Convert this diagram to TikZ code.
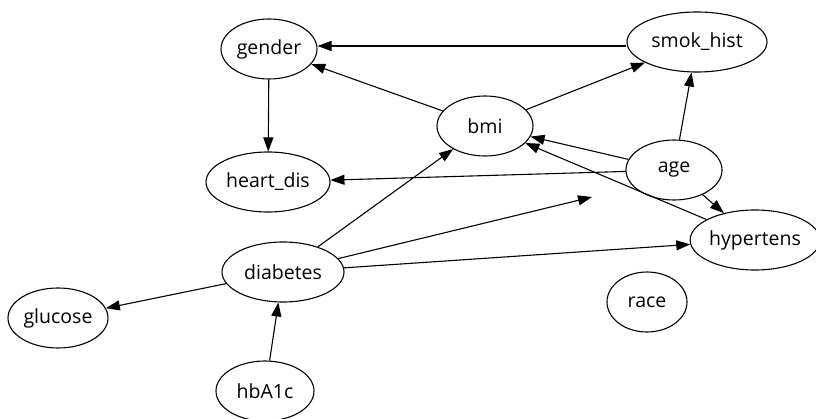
\documentclass[tikz,border=0pt]{standalone}
\usepackage{fontspec}
\setmainfont{Open Sans}
\usetikzlibrary{shapes.geometric,arrows.meta}
\begin{document}
\begin{tikzpicture}[x=1pt,y=-1pt,
  var/.style={ellipse,draw,line width=1.1pt,inner sep=0pt,minimum height=60pt,
    font=\fontsize{19.5}{21}\selectfont},
  edge/.style={line width=1.1pt,-{Triangle[length=14pt,width=10pt]}}]
\useasboundingbox (0,0) rectangle (816,419);
\node[var,minimum width=96pt]  (gender)    at (269,49)  {gender};
\node[var,minimum width=124pt] (heart)     at (268,182) {heart\_dis};
\node[var,minimum width=96pt]  (bmi)       at (485,126) {bmi};
\node[var,minimum width=140pt] (smok)      at (697,42)  {smok\_hist};
\node[var,minimum width=96pt]  (age)       at (674,170) {age};
\node[var,minimum width=124pt] (hyper)     at (755,240) {hypertens};
\node[var,minimum width=80pt]  (race)      at (647,302) {race};
\node[var,minimum width=122pt] (diabetes)  at (283,272) {diabetes};
\node[var,minimum width=100pt] (glucose)   at (58,318)  {glucose};
\node[var,minimum width=98pt]  (hba)       at (265,391) {hbA1c};
\coordinate (loose) at (592,197);

\draw[edge] (smok.west |- 0,46) -- (gender.east |- 0,46);
\draw[edge] (bmi) -- (gender);
\draw[edge] (bmi) -- (smok);
\draw[edge] (gender) -- (heart);
\draw[edge] (age) -- (bmi);
\draw[edge] (age) -- (smok);
\draw[edge] (age) -- (heart);
\draw[edge] (age) -- (hyper);
\draw[edge] (hyper) -- (bmi);
\draw[edge] (diabetes) -- (bmi);
\draw[edge] (diabetes) -- (loose);
\draw[edge] (diabetes) -- (hyper);
\draw[edge] (diabetes) -- (glucose);
\draw[edge] (hba) -- (diabetes);
\end{tikzpicture}
\end{document}
